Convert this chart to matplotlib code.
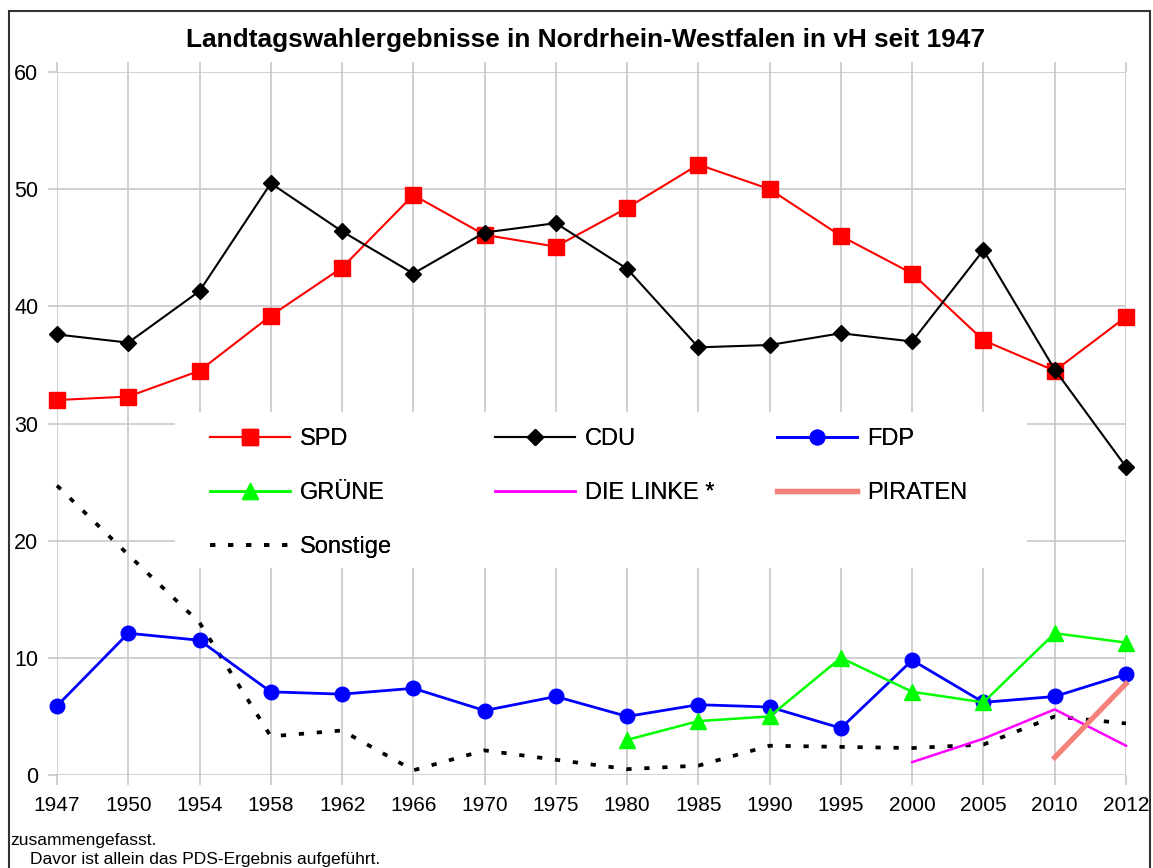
#!/usr/bin/env python3
import numpy as np
import matplotlib
matplotlib.use("Agg")
import matplotlib.pyplot as plt
from matplotlib.patches import Rectangle

nan = np.nan

years = ["1947", "1950", "1954", "1958", "1962", "1966", "1970", "1975",
         "1980", "1985", "1990", "1995", "2000", "2005", "2010", "2012"]
spd = [32.0, 32.3, 34.5, 39.2, 43.3, 49.5, 46.1, 45.1, 48.4, 52.1, 50.0, 46.0, 42.8, 37.1, 34.5, 39.1]
cdu = [37.6, 36.9, 41.3, 50.5, 46.4, 42.8, 46.3, 47.1, 43.2, 36.5, 36.7, 37.7, 37.0, 44.8, 34.6, 26.3]
fdp = [5.9, 12.1, 11.5, 7.1, 6.9, 7.4, 5.5, 6.7, 5.0, 6.0, 5.8, 4.0, 9.8, 6.2, 6.7, 8.6]
gruene = [nan, nan, nan, nan, nan, nan, nan, nan, 3.0, 4.6, 5.0, 10.0, 7.1, 6.2, 12.1, 11.3]
linke = [nan, nan, nan, nan, nan, nan, nan, nan, nan, nan, nan, nan, 1.1, 3.1, 5.6, 2.5]
piraten = [nan, nan, nan, nan, nan, nan, nan, nan, nan, nan, nan, nan, nan, nan, 1.5, 7.8]
sonstige = [24.7, 18.8, 13.0, 3.3, 3.8, 0.4, 2.1, 1.3, 0.5, 0.8, 2.5, 2.4, 2.3, 2.6, 5.0, 4.4]

title = "Landtagswahlergebnisse in Nordrhein-Westfalen in vH seit 1947"
footnote1 = "zusammengefasst."
footnote2 = "Davor ist allein das PDS-Ergebnis aufgeführt."

plt.rcParams["font.family"] = ["Liberation Sans", "DejaVu Sans"]

W, H = 1153, 868
fig = plt.figure(figsize=(W / 100, H / 100), dpi=100)
ax = fig.add_axes([57 / W, 1 - 775 / H, (1126 - 57) / W, (775 - 72) / H])

x = np.arange(len(years))
grid_c = "#c4c4c4"

l_spd, = ax.plot(x, spd, color="#ff0000", lw=1.5, marker="s", ms=12, label="SPD", zorder=4)
l_cdu, = ax.plot(x, cdu, color="black", lw=1.5, marker="D", ms=8.5, label="CDU", zorder=4)
l_fdp, = ax.plot(x, fdp, color="#0000ff", lw=2, marker="o", ms=10.5, label="FDP", zorder=4)
l_gru, = ax.plot(x, gruene, color="#00ff00", lw=1.8, marker="^", ms=11, label="GRÜNE", zorder=4)
l_lin, = ax.plot(x, linke, color="#ff00ff", lw=1.8, label="DIE LINKE *", zorder=4)
l_pir, = ax.plot(x, piraten, color="#f4827a", lw=3.8, label="PIRATEN", zorder=4)
l_son, = ax.plot(x, sonstige, color="black", lw=2.7, dashes=(1.4, 3.4), label="Sonstige", zorder=3)
for ln in ax.get_lines():
    ln.set_clip_on(False)

ax.set_xlim(0, len(years) - 1)
ax.set_ylim(0, 60)
ax.set_xticks(x)
ax.set_xticklabels(years)
ax.set_yticks(range(0, 61, 10))
ax.grid(True, color=grid_c, lw=1.1)
ax.set_axisbelow(True)
for s in ax.spines.values():
    s.set_visible(False)
ax.tick_params(axis="x", which="both", bottom=True, top=True, length=7.5,
               color=grid_c, width=1.1, labelsize=15, pad=7.5)
ax.tick_params(axis="y", length=6.5, color=grid_c, width=1.1, labelsize=15.5, pad=7)

# white box behind the legend
ax.add_patch(Rectangle((175 / W, 1 - 568 / H), (1027 - 175) / W, (568 - 412) / H,
                       transform=fig.transFigure, facecolor="white", edgecolor="none",
                       zorder=1, clip_on=False))

cols = [([l_spd, l_gru, l_son], 210), ([l_cdu, l_lin], 495), ([l_fdp, l_pir], 777)]
for handles, px in cols:
    leg = fig.legend(handles=handles, loc="upper left", bbox_to_anchor=(px / W, 1 - 428 / H),
                     frameon=False, fontsize=17, handlelength=3.39, handletextpad=0.42,
                     labelspacing=1.36, borderpad=0, borderaxespad=0)
    fig.add_artist(leg)

fig.text(0.508, 1 - 40 / H, title, ha="center", va="center", fontsize=18.9, fontweight="bold")
fig.text(10 / W, 1 - 840 / H, footnote1, ha="left", va="center", fontsize=12.5)
fig.text(30 / W, 1 / H, footnote2, ha="left", va="bottom", fontsize=12.5)

fig.add_artist(Rectangle((9 / W, -0.05), (1150 - 9) / W, 1.05 - 11 / H,
                         transform=fig.transFigure, fill=False, edgecolor="#333333",
                         lw=1.5, clip_on=False))

fig.savefig("out.png", dpi=100)
